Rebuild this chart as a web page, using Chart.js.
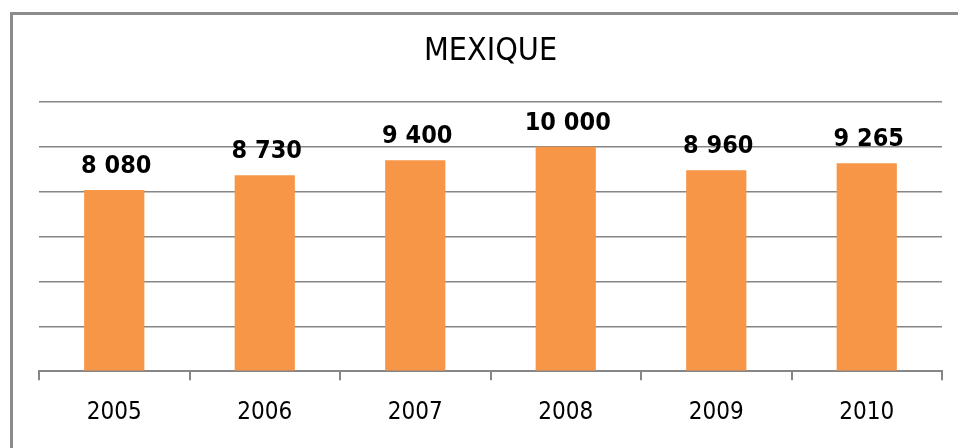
<!DOCTYPE html>
<html>
<head>
<meta charset="utf-8">
<script src="https://cdn.jsdelivr.net/npm/chart.js@4/dist/chart.umd.min.js"></script>
<style>
  html, body { margin: 0; padding: 0; background: #fff; overflow: hidden; }
  #frame {
    position: absolute; left: 10px; top: 12px;
    width: 1000px; height: 500px;
    border: 3px solid #8c8c8c; box-sizing: border-box;
  }
  #wrap { position: absolute; left: 0; top: 0; width: 958px; height: 448px; }
</style>
</head>
<body>
<div id="frame"></div>
<div id="wrap"><canvas id="chart"></canvas></div>
<script>
// values
const years = ["2005", "2006", "2007", "2008", "2009", "2010"];
const amounts = [8080, 8730, 9400, 10000, 8960, 9265];
const yTicks = [0, 2000, 4000, 6000, 8000, 10000, 12000];

const FONT = "'DejaVu Sans Condensed', 'DejaVu Sans', sans-serif";

// 8080 -> "8 080"
const fmt = function(v){
    return String(v).replace(/\B(?=(\d{3})+(?!\d))/g, " ");
};

// draws value labels above each bar
const barLabels = {
    id: "barLabels",
    afterDatasetsDraw(chart){
        const ctx = chart.ctx;
        const meta = chart.getDatasetMeta(0);
        ctx.save();
        ctx.font = "bold 25px " + FONT;
        ctx.fillStyle = "#000";
        ctx.textAlign = "center";
        ctx.textBaseline = "alphabetic";
        meta.data.forEach((bar, i) => {
            ctx.fillText(fmt(amounts[i]), bar.x + 2, bar.y - 17);
        });
        ctx.restore();
    }
};

const config = {
    type: "bar",
    data: {
        labels: years,
        datasets: [{
            data: amounts,
            backgroundColor: "#f79646",
            borderWidth: 0,
            barPercentage: 0.4,
            categoryPercentage: 1
        }]
    },
    options: {
        responsive: true,
        maintainAspectRatio: false,
        animation: false,
        layout: { padding: { left: 39, right: 16, top: 0, bottom: 3 } },
        plugins: {
            legend: { display: false },
            tooltip: { enabled: false },
            title: {
                display: true,
                text: "MEXIQUE",
                color: "#000",
                font: { family: FONT, size: 32, weight: "normal", lineHeight: 1.2 },
                padding: { top: 32, bottom: 31.6 }
            }
        },
        scales: {
            x: {
                offset: true,
                grid: {
                    offset: true,
                    drawOnChartArea: false,
                    drawTicks: true,
                    tickLength: 9,
                    color: "#868686",
                    lineWidth: 2
                },
                border: { display: true, color: "#868686", width: 2 },
                ticks: {
                    color: "#000",
                    padding: 18,
                    font: { family: FONT, size: 24, lineHeight: 1.2 }
                }
            },
            y: {
                min: yTicks[0],
                max: yTicks[yTicks.length - 1],
                afterBuildTicks(scale){
                    scale.ticks = yTicks.map(v => ({ value: v }));
                },
                afterFit(scale){ scale.width = 0; },
                ticks: { display: false },
                grid: { drawTicks: false, color: "#868686", lineWidth: 1.5 },
                border: { display: false }
            }
        }
    },
    plugins: [barLabels]
};

new Chart(document.getElementById("chart"), config);
</script>
</body>
</html>
